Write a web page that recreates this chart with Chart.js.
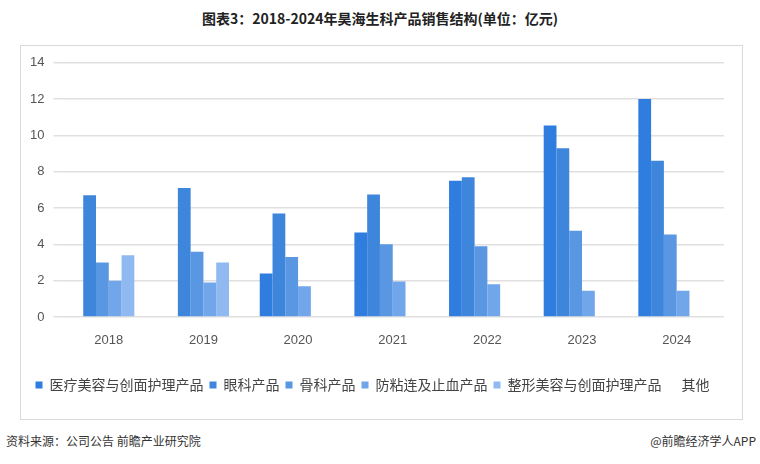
<!DOCTYPE html>
<html><head><meta charset="utf-8">
<script src="https://cdn.jsdelivr.net/npm/chart.js@4"></script>
<style>
body{margin:0;width:760px;height:464px;background:#fff;font-family:"Noto Sans CJK SC","Noto Sans",sans-serif;position:relative;overflow:hidden}
#title{position:absolute;top:8px;left:0;width:760px;text-align:center;font-weight:bold;font-size:14px;color:#222}
#box{position:absolute;left:20px;top:45px;width:723px;height:375px;border:1px solid #d9d9d9;box-sizing:border-box}
#src{position:absolute;left:6px;top:432px;font-size:12px;color:#333}
#app{position:absolute;right:4px;top:432px;font-size:12px;color:#333}
</style></head><body>
<div id="title">图表3：2018-2024年昊海生科产品销售结构(单位：亿元)</div>
<div id="box"><canvas id="c"></canvas></div>
<div id="src">资料来源：公司公告 前瞻产业研究院</div>
<div id="app">@前瞻经济学人APP</div>
<script>
const years = ['2018', '2019', '2020', '2021', '2022', '2023', '2024'];
const names = ['医疗美容与创面护理产品', '眼科产品', '骨科产品', '防粘连及止血产品', '整形美容与创面护理产品', '其他'];
const medBeauty = [0, 0, 2.4, 4.65, 7.5, 10.55, 12.0];
const ophthalmic = [6.7, 7.1, 5.7, 6.75, 7.7, 9.3, 8.6];
const ortho = [3.0, 3.6, 3.3, 4.0, 3.9, 4.75, 4.55];
const antiAdhesion = [2.0, 1.9, 1.7, 1.95, 1.8, 1.45, 1.45];
const plastic = [3.4, 3.0, 0, 0, 0, 0, 0];
const other = [0, 0, 0, 0, 0, 0, 0];
const colors = ['#2f7ddf', '#3e86dc', '#5a97e3', '#71a6ea', '#90b9f1', '#ffffff'];

const series = [medBeauty, ophthalmic, ortho, antiAdhesion, plastic, other];
const c = document.getElementById('c');
c.width = 721; c.height = 373;
new Chart(c, {
  type: 'bar',
  data: {
    labels: years,
    datasets: series.map((d, i) => ({
      label: names[i], data: d, backgroundColor: colors[i],
      barPercentage: 1, categoryPercentage: 0.81
    }))
  },
  options: {
    responsive: false, animation: false,
    layout: { padding: { left: 0, right: 18, top: 13, bottom: 17 } },
    plugins: {
      legend: {
        position: 'bottom',
        title: { display: true, text: '', padding: { top: 1, bottom: 0 }, font: { size: 12 } },
        labels: { boxWidth: 7, boxHeight: 7, padding: 6, color: '#444',
          font: { size: 14, family: '"Noto Sans CJK SC", sans-serif' } }
      },
      tooltip: { enabled: false }
    },
    scales: {
      x: { grid: { display: false }, border: { display: false },
        ticks: { color: '#555', font: { size: 13 }, padding: 8 } },
      y: { min: 0, max: 14, ticks: { stepSize: 2, color: '#555', font: { size: 13 }, padding: 9 },
        grid: { color: '#e0e0e0', lineWidth: 1.5 }, border: { display: false } }
    }
  }
});
</script>
</body></html>
